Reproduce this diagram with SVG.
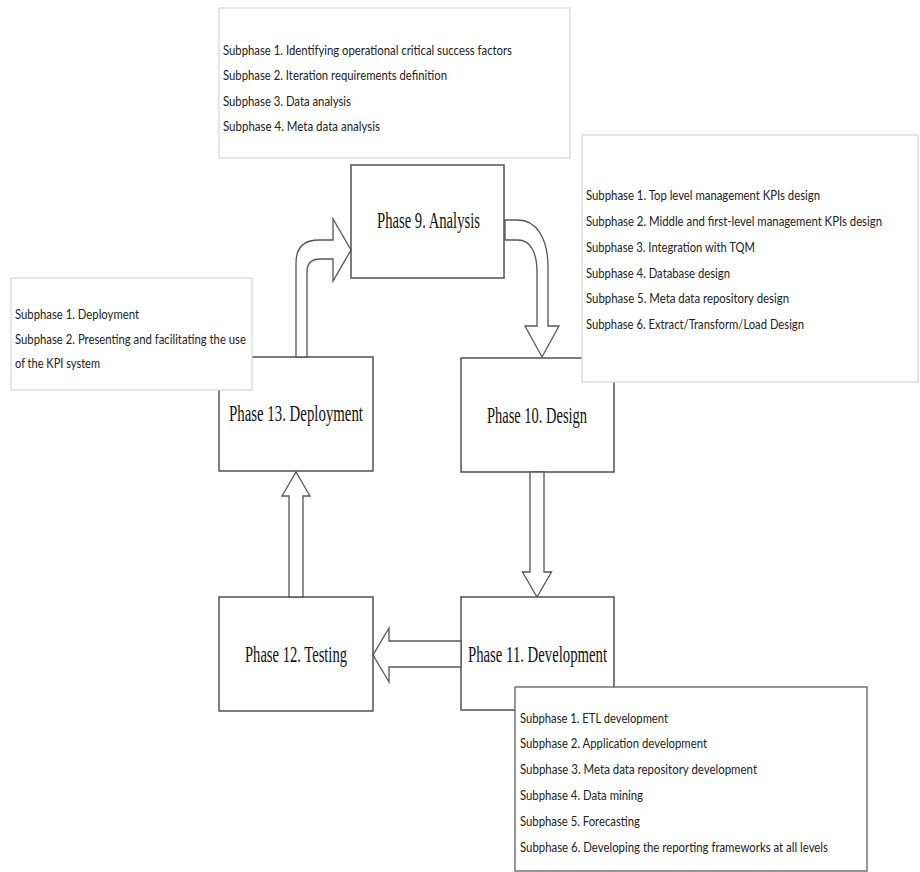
<svg xmlns="http://www.w3.org/2000/svg" width="920" height="872" viewBox="0 0 920 872">
<style>
.phase{fill:#fff;stroke:#505050;stroke-width:1.5}
.ptxt{font-family:"Liberation Serif","Times New Roman",serif;font-size:24px;fill:#111}
.sub{fill:#fff;stroke:#d6d6de;stroke-width:1.2}
.subdark{fill:#fff;stroke:#6a6a6a;stroke-width:1.4}
.stxt{font-family:Lato,"Open Sans","Liberation Sans",sans-serif;font-size:12.5px;fill:#222}
.arrow{fill:#fff;stroke:#555;stroke-width:1.3;stroke-linejoin:miter}
</style>
<rect width="920" height="872" fill="#fff"/>

<g id="phase9">
<rect class="phase" x="351" y="165" width="153" height="113"/>
<text class="ptxt" x="377" y="228" textLength="103" lengthAdjust="spacingAndGlyphs">Phase 9. Analysis</text>
</g>
<g id="phase10">
<rect class="phase" x="461" y="358" width="153" height="114"/>
<text class="ptxt" x="487" y="423" textLength="100" lengthAdjust="spacingAndGlyphs">Phase 10. Design</text>
</g>
<g id="phase11">
<rect class="phase" x="461" y="597" width="153" height="113"/>
<text class="ptxt" x="468" y="662" textLength="139" lengthAdjust="spacingAndGlyphs">Phase 11. Development</text>
</g>
<g id="phase12">
<rect class="phase" x="219" y="597" width="154" height="114"/>
<text class="ptxt" x="245" y="662" textLength="102" lengthAdjust="spacingAndGlyphs">Phase 12. Testing</text>
</g>
<g id="phase13">
<rect class="phase" x="219" y="357" width="154" height="114"/>
<text class="ptxt" x="229" y="421" textLength="134" lengthAdjust="spacingAndGlyphs">Phase 13. Deployment</text>
</g>

<g id="connectors">
<path class="arrow" d="M296,357 V263 Q296,240 319,240 H333 V219 L351,250 L333,281 V259 H320 Q307,259 307,272 V357 Z"/>
<path class="arrow" d="M505,220 H518 C536,220 548,238 548,267 V326 H559 L542,357 L525,326 H537 V272 C537,252 530,240 518,240 H505 Z"/>
<path class="arrow" d="M530,472 V572 H522.5 L537,597 L551.5,572 H544 V472 Z"/>
<path class="arrow" d="M461,641 H389 V628 L373,655 L389,682 V667 H461 Z"/>
<path class="arrow" d="M289,597 V496 H282 L296,472 L310,496 H303 V597 Z"/>
</g>

<g id="sub-analysis">
<rect class="sub" x="219" y="8" width="351" height="150"/>
<text class="stxt" x="223" y="55" textLength="289" lengthAdjust="spacingAndGlyphs">Subphase 1. Identifying operational critical success factors</text>
<text class="stxt" x="223" y="80" textLength="224" lengthAdjust="spacingAndGlyphs">Subphase 2. Iteration requirements definition</text>
<text class="stxt" x="223" y="106" textLength="128" lengthAdjust="spacingAndGlyphs">Subphase 3. Data analysis</text>
<text class="stxt" x="223" y="131" textLength="157" lengthAdjust="spacingAndGlyphs">Subphase 4. Meta data analysis</text>
</g>
<g id="sub-design">
<rect class="sub" x="582" y="135" width="336" height="247"/>
<text class="stxt" x="586" y="200" textLength="234" lengthAdjust="spacingAndGlyphs">Subphase 1. Top level management KPIs design</text>
<text class="stxt" x="586" y="226" textLength="296" lengthAdjust="spacingAndGlyphs">Subphase 2. Middle and first-level management KPIs design</text>
<text class="stxt" x="586" y="252" textLength="169" lengthAdjust="spacingAndGlyphs">Subphase 3. Integration with TQM</text>
<text class="stxt" x="586" y="278" textLength="144" lengthAdjust="spacingAndGlyphs">Subphase 4. Database design</text>
<text class="stxt" x="586" y="303" textLength="203" lengthAdjust="spacingAndGlyphs">Subphase 5. Meta data repository design</text>
<text class="stxt" x="586" y="329" textLength="218" lengthAdjust="spacingAndGlyphs">Subphase 6. Extract/Transform/Load Design</text>
</g>
<g id="sub-deployment">
<rect class="sub" x="11" y="278" width="241" height="112"/>
<text class="stxt" x="15" y="319" textLength="124" lengthAdjust="spacingAndGlyphs">Subphase 1. Deployment</text>
<text class="stxt" x="15" y="344" textLength="231" lengthAdjust="spacingAndGlyphs">Subphase 2. Presenting and facilitating the use</text>
<text class="stxt" x="15" y="368" textLength="85" lengthAdjust="spacingAndGlyphs">of the KPI system</text>
</g>
<g id="sub-development">
<rect class="subdark" x="515" y="687" width="352" height="184"/>
<text class="stxt" x="520" y="723" textLength="148" lengthAdjust="spacingAndGlyphs">Subphase 1. ETL development</text>
<text class="stxt" x="520" y="748" textLength="187" lengthAdjust="spacingAndGlyphs">Subphase 2. Application development</text>
<text class="stxt" x="520" y="774" textLength="237" lengthAdjust="spacingAndGlyphs">Subphase 3. Meta data repository development</text>
<text class="stxt" x="520" y="800" textLength="123" lengthAdjust="spacingAndGlyphs">Subphase 4. Data mining</text>
<text class="stxt" x="520" y="826" textLength="120" lengthAdjust="spacingAndGlyphs">Subphase 5. Forecasting</text>
<text class="stxt" x="520" y="852" textLength="308" lengthAdjust="spacingAndGlyphs">Subphase 6. Developing the reporting frameworks at all levels</text>
</g>
</svg>
